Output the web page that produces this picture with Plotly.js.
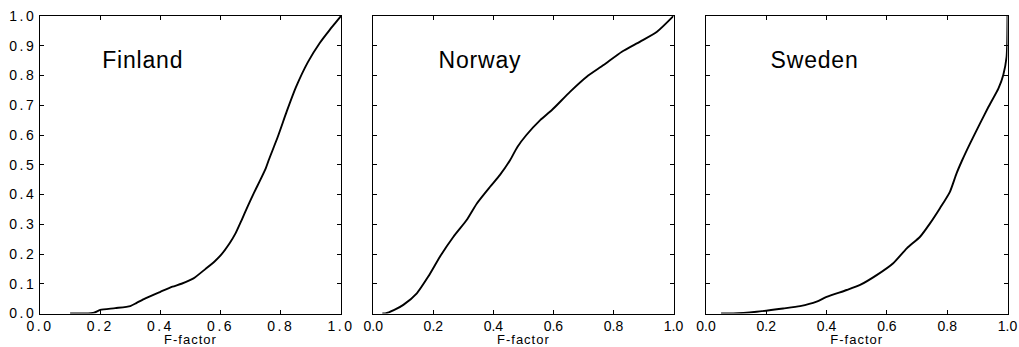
<!DOCTYPE html>
<html>
<head>
<meta charset="utf-8">
<script src="https://cdn.plot.ly/plotly-3.0.1.min.js"></script>
<style>
html,body{margin:0;padding:0;background:#fff;}
#chart{width:1019px;height:347px;}
#chart .xtick text, #chart .ytick text{letter-spacing:2.5px;}
#chart .g-xtitle text, #chart .g-x2title text, #chart .g-x3title text{letter-spacing:1px;}
#chart .annotation-text{letter-spacing:0.8px;}
</style>
</head>
<body>
<div id="chart"></div>
<script>
// Data (cumulative distribution of F-factor)
const panelNames = ["Finland", "Norway", "Sweden"];
const xTitle = "F-factor";

const finlandX = [0.10,0.15,0.18,0.20,0.25,0.30,0.32,0.35,0.40,0.44,0.47,0.51,0.55,0.58,0.60,0.63,0.65,0.67,0.69,0.71,0.73,0.75,0.76,0.79,0.82,0.85,0.89,0.93,0.96,0.98,1.0];
const finlandY = [0.0,0.0,0.003,0.012,0.018,0.025,0.035,0.051,0.073,0.090,0.100,0.118,0.150,0.175,0.195,0.236,0.27,0.314,0.36,0.404,0.445,0.488,0.516,0.594,0.68,0.76,0.845,0.91,0.95,0.975,1.0];

const norwayX = [0.03,0.04,0.07,0.10,0.145,0.183,0.222,0.267,0.311,0.345,0.389,0.422,0.456,0.48,0.51,0.556,0.595,0.656,0.711,0.767,0.828,0.889,0.945,1.0];
const norwayY = [0.0,0.0,0.012,0.029,0.068,0.124,0.191,0.258,0.314,0.37,0.426,0.466,0.516,0.56,0.60,0.65,0.684,0.746,0.796,0.835,0.88,0.914,0.947,1.0];

const swedenX = [0.05,0.09,0.168,0.256,0.312,0.367,0.40,0.467,0.511,0.566,0.621,0.666,0.71,0.743,0.776,0.809,0.831,0.85,0.876,0.909,0.937,0.97,0.986,0.997,0.999,1.0];
const swedenY = [0.0,0.0,0.006,0.017,0.025,0.040,0.056,0.079,0.096,0.129,0.169,0.219,0.258,0.303,0.354,0.409,0.471,0.516,0.572,0.639,0.695,0.757,0.802,0.863,0.91,1.0];

const xTicks = [0,0.2,0.4,0.6,0.8,1.0];
const yTicks = [0,0.1,0.2,0.3,0.4,0.5,0.6,0.7,0.8,0.9,1.0];

const series = [[finlandX, finlandY],[norwayX, norwayY],[swedenX, swedenY]];

const W = 1019, H = 347;
const pxDomains = [[40,341],[373.3,673.5],[706,1007.5]];
const yDom = [1 - 313.5/H, 1 - 16/H];
const font = "Liberation Sans, Arial, Helvetica, sans-serif";

const traces = series.map((s,i) => ({
  x: s[0], y: s[1], type: "scatter", mode: "lines",
  xaxis: i === 0 ? "x" : "x" + (i+1),
  yaxis: i === 0 ? "y" : "y" + (i+1),
  line: {color: "#000", width: 1.9, shape: "spline", smoothing: 0.6},
  hoverinfo: "skip", showlegend: false
}));

const layout = {
  width: W, height: H,
  margin: {l:0, r:0, t:0, b:0},
  paper_bgcolor: "#fff", plot_bgcolor: "#fff",
  font: {family: font, color: "#000", size: 14},
  showlegend: false,
  annotations: []
};

pxDomains.forEach((d,i) => {
  const sx = i === 0 ? "" : String(i+1);
  layout["xaxis" + sx] = {
    domain: [d[0]/W, d[1]/W], range: [0,1], anchor: "y" + sx,
    tickvals: xTicks, tickformat: ".1f",
    ticks: "inside", ticklen: 4, tickcolor: "#000", tickwidth: 1,
    showline: true, linecolor: "#000", linewidth: 1, mirror: "ticks",
    showgrid: false, zeroline: false,
    tickfont: {family: font, size: 14, color: "#000"},
    title: {text: xTitle, standoff: 1, font: {family: font, size: 13, color: "#000"}},
    fixedrange: true
  };
  layout["yaxis" + sx] = {
    domain: yDom, range: [0,1], anchor: "x" + sx,
    tickvals: yTicks, tickformat: ".1f",
    ticks: "inside", ticklen: 4, tickcolor: "#000", tickwidth: 1,
    showline: true, linecolor: "#000", linewidth: 1, mirror: "ticks",
    showgrid: false, zeroline: false,
    showticklabels: i === 0,
    tickfont: {family: font, size: 14, color: "#000"},
    fixedrange: true
  };
  const cx = [0.342, 0.357, 0.359][i];
  layout.annotations.push({
    text: panelNames[i], showarrow: false,
    xref: "x" + sx + " domain", yref: "y" + sx + " domain",
    x: cx, y: 0.852, xanchor: "center", yanchor: "middle",
    font: {family: font, size: 23, color: "#000"}
  });
});

Plotly.newPlot("chart", traces, layout, {staticPlot: true, displayModeBar: false});
</script>
</body>
</html>
